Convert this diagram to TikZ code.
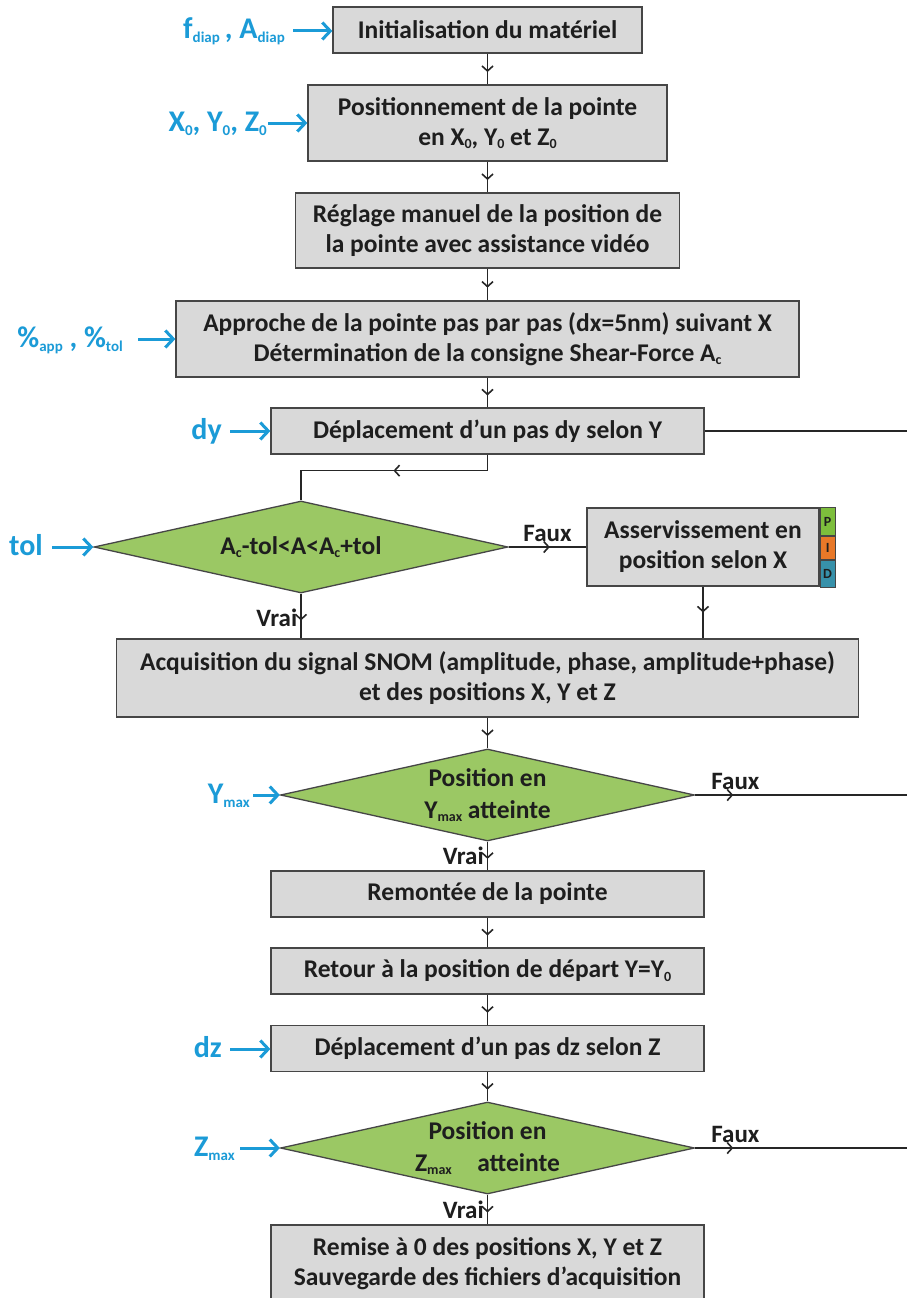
\documentclass[tikz,border=0pt]{standalone}
\usepackage{fontspec}
\setmainfont{Carlito}
\usetikzlibrary{arrows.meta,shapes.geometric,decorations.markings}
\definecolor{cblue}{RGB}{27,155,215}
\definecolor{boxgray}{RGB}{217,217,217}
\definecolor{dgreen}{RGB}{155,200,100}
\definecolor{edgec}{RGB}{70,70,70}
\definecolor{pcol}{RGB}{125,190,60}
\definecolor{icol}{RGB}{232,120,40}
\definecolor{dcol}{RGB}{55,145,170}
\definecolor{txt}{RGB}{30,30,30}
\newcommand\lo[1]{\raisebox{-3.5pt}{\fontsize{14}{14}\selectfont #1}}
\newcommand\blo[1]{\raisebox{-4pt}{\fontsize{15}{15}\selectfont #1}}
\begin{document}
\begin{tikzpicture}[x=1pt,y=-1pt,
  box/.style={draw=edgec, fill=boxgray, line width=1.3pt, inner sep=0pt, align=center,
    text=txt, font=\bfseries\fontsize{25.5}{30}\selectfont},
  dec/.style={draw=edgec, fill=dgreen, shape=diamond, shape aspect=4.5, line width=1.3pt,
    inner sep=0pt, align=center, text=txt, font=\bfseries\fontsize{25.5}{32}\selectfont,
    minimum width=414pt, minimum height=92pt},
  pid/.style={draw=edgec, line width=1pt, inner sep=0pt, minimum width=15pt, text=txt,
    font=\bfseries\fontsize{14}{14}\selectfont, anchor=north},
  conn/.style={draw=black!85, line width=1.6pt},
  mid/.style={postaction={decorate}, decoration={markings,
    mark=at position #1 with {\arrow{Straight Barb[length=5pt,width=11pt,line width=1.6pt]}}}},
  inp/.style={draw=cblue, line width=3pt, -{Straight Barb[length=8pt,width=17pt]}},
  lab/.style={text=cblue, font=\bfseries\fontsize{30}{30}\selectfont, inner sep=0pt,
    text height=22pt, text depth=6pt, anchor=east},
  tf/.style={text=txt, font=\bfseries\fontsize{25}{28}\selectfont, inner sep=0pt}
]
\fill[white] (0,0) rectangle (907,1298);
\useasboundingbox (0,0) rectangle (907,1298);

% boxes
\node[box, minimum width=309pt, minimum height=46pt] (b1) at (487.5,30) {Initialisation du matériel};
\node[box, minimum width=359pt, minimum height=76pt] (b2) at (487.5,123) {Positionnement de la pointe\\en X\lo{0}, Y\lo{0} et Z\lo{0}};
\node[box, minimum width=384pt, minimum height=75pt] (b3) at (487.5,230.5) {Réglage manuel de la position de\\la pointe avec assistance vidéo};
\node[box, minimum width=623pt, minimum height=76pt] (b4) at (487.5,339) {Approche de la pointe pas par pas (dx=5nm) suivant X\\Détermination de la consigne Shear-Force A\lo{c}};
\node[box, minimum width=433pt, minimum height=46pt] (b5) at (487.5,431) {Déplacement d’un pas dy selon Y};
\node[dec] (d1) at (301,547) {A\lo{c}-tol<A<A\lo{c}+tol};
\node[box, minimum width=232pt, minimum height=78pt] (b6) at (703,547) {Asservissement en\\position selon X};
\node[pid, fill=pcol, minimum height=28pt, anchor=north west] (pP) at (b6.north east) {P};
\node[pid, fill=icol, minimum height=23pt] (pI) at (pP.south) {I};
\node[pid, fill=dcol, minimum height=27pt] (pD) at (pI.south) {D};
\node[box, minimum width=742pt, minimum height=78pt] (b7) at (487.5,678) {Acquisition du signal SNOM (amplitude, phase, amplitude+phase)\\et des positions X, Y et Z};
\node[dec] (d2) at (487.5,795) {Position en\\Y\lo{max} atteinte};
\node[box, minimum width=433pt, minimum height=46pt] (b8) at (487.5,894) {Remontée de la pointe};
\node[box, minimum width=433pt, minimum height=46pt] (b9) at (487.5,971) {Retour à la position de départ Y=Y\lo{0}};
\node[box, minimum width=433pt, minimum height=46pt] (b10) at (487.5,1048.5) {Déplacement d’un pas dz selon Z};
\node[dec] (d3) at (487.5,1148) {Position en\\Z\lo{max}\quad atteinte};
\node[box, minimum width=433pt, minimum height=78pt] (b11) at (487.5,1264) {Remise à 0 des positions X, Y et Z\\Sauvegarde des fichiers d’acquisition};

\coordinate (e1) at (907,431);
\coordinate (e2) at (907,795);
\coordinate (e3) at (907,1148);

% connectors
\draw[conn, mid=0.6] (b1.south) -- (b2.north);
\draw[conn, mid=0.6] (b2.south) -- (b3.north);
\draw[conn, mid=0.6] (b3.south) -- (b4.north);
\draw[conn, mid=0.6] (b4.south) -- (b5.north);
\draw[conn] (b5.east) -- (e1);
\draw[conn, mid=110pt] (b5.south) -- ++(0,16) -| (d1.north);
\draw[conn, mid=0.53] (d1.east) -- (b6.west) node[tf, midway, above=5pt] {Faux};
\draw[conn, mid=0.6] (d1.south) -- (d1.south |- b7.north) node[tf, pos=0.55, left=3pt] {Vrai};
\draw[conn, mid=0.5] (b6.south) -- (b6.south |- b7.north);
\draw[conn, mid=0.6] (b7.south) -- (d2.north);
\draw[conn, mid=0.18] (d2.east) -- (e2) node[tf, pos=0.19, above=5pt] {Faux};
\draw[conn, mid=0.6] (d2.south) -- (b8.north) node[tf, pos=0.5, left=3pt] {Vrai};
\draw[conn, mid=0.6] (b8.south) -- (b9.north);
\draw[conn, mid=0.6] (b9.south) -- (b10.north);
\draw[conn, mid=0.6] (b10.south) -- (d3.north);
\draw[conn, mid=0.18] (d3.east) -- (e3) node[tf, pos=0.19, above=5pt] {Faux};
\draw[conn, mid=0.6] (d3.south) -- (b11.north) node[tf, pos=0.5, left=3pt] {Vrai};

% inputs
\node[lab] (l1) at (285,31) {f\blo{diap}\,, A\blo{diap}};
\draw[inp, shorten <=8pt] (l1.east) -- (l1.east -| b1.west);
\node[lab] (l2) at (267,123) {X\blo{0}, Y\blo{0}, Z\blo{0}};
\draw[inp, shorten <=1pt] (l2.east) -- (l2.east -| b2.west);
\node[lab] (l3) at (123,339) {\%\blo{app} , \%\blo{tol}};
\draw[inp, shorten <=15pt] (l3.east) -- (l3.east -| b4.west);
\node[lab] (l4) at (222,431) {dy};
\draw[inp, shorten <=8pt] (l4.east) -- (l4.east -| b5.west);
\node[lab] (l5) at (43,547) {tol};
\draw[inp, shorten <=9pt] (l5.east) -- (l5.east -| d1.west);
\node[lab] (l6) at (250,795) {Y\blo{max}};
\draw[inp, shorten <=3pt] (l6.east) -- (l6.east -| d2.west);
\node[lab] (l7) at (222,1049) {dz};
\draw[inp, shorten <=8pt] (l7.east) -- (l7.east -| b10.west);
\node[lab] (l8) at (235,1148) {Z\blo{max}};
\draw[inp, shorten <=5pt] (l8.east) -- (l8.east -| d3.west);
\end{tikzpicture}
\end{document}
